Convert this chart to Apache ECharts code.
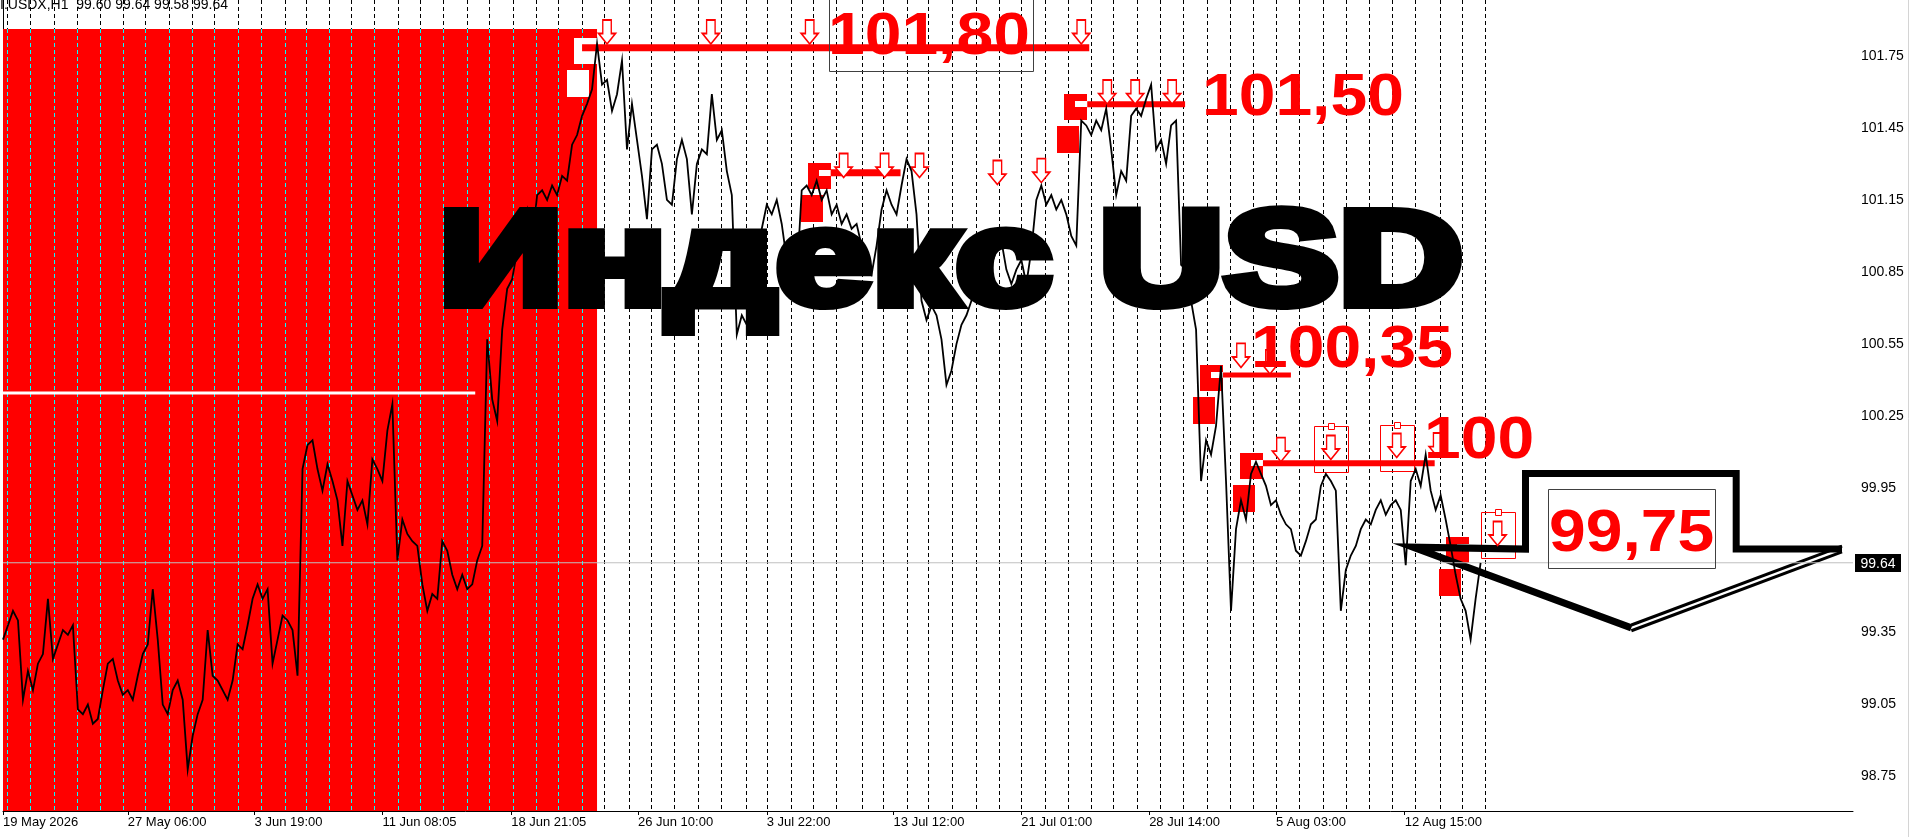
<!DOCTYPE html>
<html>
<head>
<meta charset="utf-8">
<style>
html,body{margin:0;padding:0;background:#ffffff;}
#chart{width:1911px;height:837px;}
</style>
<script src="https://cdn.jsdelivr.net/npm/echarts@6.0.0/dist/echarts.min.js"></script>
</head>
<body>
<div id="chart"></div>
<script>
// ================= DATA =================
// H1 closes sampled every 5 bars (bar index = i * BAR_STEP)
const BAR_STEP = 5;
const closePrices = [
99.32,99.38,99.44,99.40,99.07,99.19,99.11,99.22,99.26,99.49,
99.24,99.30,99.36,99.34,99.38,99.03,99.01,99.05,98.97,98.99,
99.11,99.22,99.24,99.15,99.09,99.11,99.07,99.17,99.26,99.30,
99.53,99.32,99.05,99.01,99.11,99.15,99.07,98.78,98.92,99.01,
99.07,99.36,99.17,99.15,99.11,99.07,99.15,99.30,99.28,99.38,
99.49,99.55,99.49,99.53,99.22,99.32,99.42,99.40,99.36,99.17,
100.03,100.13,100.15,100.03,99.94,100.05,99.98,99.90,99.71,99.98,
99.92,99.86,99.90,99.80,100.07,100.03,99.98,100.19,100.30,99.65,
99.82,99.76,99.73,99.71,99.55,99.44,99.51,99.49,99.73,99.69,
99.59,99.53,99.59,99.53,99.55,99.65,99.71,100.57,100.32,100.23,
100.61,100.78,100.82,100.94,101.03,101.11,100.98,101.17,101.19,101.15,
101.21,101.17,101.25,101.23,101.38,101.42,101.50,101.55,101.61,101.80,
101.63,101.65,101.52,101.59,101.73,101.36,101.55,101.40,101.25,101.07,
101.36,101.38,101.30,101.15,101.13,101.32,101.40,101.32,101.09,101.30,
101.36,101.34,101.59,101.40,101.44,101.27,101.17,100.59,100.67,100.63,
100.78,100.92,101.03,101.13,101.09,101.15,101.05,100.90,100.94,100.82,
101.19,101.21,101.17,101.23,101.15,101.19,101.09,101.13,101.05,101.09,
101.03,101.05,100.96,100.88,100.84,100.96,101.11,101.19,101.13,101.09,
101.21,101.32,101.27,101.09,100.73,100.65,100.71,100.67,100.57,100.38,
100.44,100.55,100.63,100.67,100.73,100.82,100.86,100.82,100.88,100.94,
100.98,100.86,100.80,100.86,100.90,100.80,100.94,101.15,101.21,101.13,
101.17,101.11,101.15,101.09,101.00,100.96,101.48,101.46,101.42,101.48,
101.44,101.53,101.36,101.17,101.27,101.23,101.50,101.53,101.50,101.57,
101.63,101.36,101.40,101.30,101.46,101.48,100.88,100.86,100.73,100.61,
99.98,100.15,100.09,100.21,100.46,99.98,99.44,99.78,99.90,99.82,
100.01,100.06,100.01,99.96,99.88,99.90,99.84,99.80,99.78,99.69,
99.67,99.73,99.80,99.82,99.96,100.01,99.98,99.94,99.44,99.61,
99.67,99.71,99.78,99.82,99.80,99.86,99.90,99.84,99.88,99.90,
99.86,99.63,99.98,100.03,99.96,100.09,99.94,99.86,99.92,99.82,
99.71,99.59,99.49,99.44,99.32,99.49,99.64
];
const lastPrice = 99.64;
const quoteText = 'I.USDX,H1  99.60 99.64 99.58 99.64';

// time axis labels and the bar index where each one sits
const timeLabels = ['19 May 2026','27 May 06:00','3 Jun 19:00','11 Jun 08:05','18 Jun 21:05','26 Jun 10:00','3 Jul 22:00','13 Jul 12:00','21 Jul 01:00','28 Jul 14:00','5 Aug 03:00','12 Aug 15:00'];
const timeLabelBars = [0,125,252,380,509,636,765,892,1020,1148,1275,1404];
const priceTicks = [98.75,99.05,99.35,99.95,100.25,100.55,100.85,101.15,101.45,101.75];

// daily period separators (bar index)
const daySeparators = [4,27,51,74,97,120,142,166,189,211,235,258,282,303,327,349,372,396,418,441,465,487,511,534,556,580,602,627,649,672,696,719,744,765,789,811,834,860,881,905,927,951,975,998,1020,1044,1067,1090,1112,1136,1159,1182,1206,1229,1252,1275,1298,1322,1345,1368,1391,1414,1439,1461,1484];

// shaded zone
const zoneEndBar = 595;
const zoneTopPrice = 101.861;
// old level inside the zone
const zoneLevelPrice = 100.346;
const zoneLevelEndBar = 473;

// resistance levels
const levelPrice    = [101.783, 101.548, 101.263, 100.421, 100.054];
const levelStartBar = [580, 1086, 829, 1222, 1262];
const levelEndBar   = [1088, 1184, 899, 1290, 1434];

// price-label markers (bar, price)
const markBars   = [595, 829, 1086, 1222, 1262, 1468];
const markPrices = [101.783, 101.263, 101.548, 100.421, 100.054, 99.705];

// sell arrows (bar, price)
const arrowBars   = [605,709,808,1080, 1106,1134,1171, 842,883,918, 996,1040, 1240,1269, 1280,1330,1396,1437, 1497];
const arrowPrices = [101.849,101.849,101.849,101.849, 101.599,101.599,101.599, 101.293,101.293,101.293, 101.264,101.272, 100.503,100.476, 100.111,100.120,100.128,100.130, 99.762];
const selectedArrows = [15,16,18];

// big forecast arrow outline (bar, price)
const forecastArrow = [[1842,99.697],[1736,99.697],[1736,100.012],[1525,100.012],[1525,99.697],[1412,99.705],[1631,99.369]];
const forecastTail  = [[1842,99.697],[1631,99.369]];

// ================= LAYOUT / STYLE =================
const Y_MIN = 98.607, Y_MAX = 101.982, X_MAX = 1853;
const LEVEL_WIDTHS = [7, 6, 7, 5, 6];
const RED = '#ff0000';
const FONT = '"Liberation Sans", Arial, sans-serif';

const chart = echarts.init(document.getElementById('chart'), null, {renderer:'canvas'});

const pricePoints = closePrices.map((v, i) => [i * BAR_STEP, v]);

const series = [];

// black dashed separators
series.push({
  type:'custom', z:1, silent:true, clip:false,
  data: daySeparators.map(b => [b, Y_MIN]),
  renderItem:(params, api) => {
    const b = api.value(0);
    const p0 = api.coord([b, Y_MAX]), p1 = api.coord([b, Y_MIN]);
    const x = Math.round(p0[0]) + 0.5;
    return {type:'line', shape:{x1:x, y1:p0[1], x2:x, y2:p1[1]}, style:{stroke:'#000', lineWidth:1, lineDash:[4,3]}};
  }
});
// red zone
series.push({
  type:'custom', z:2, silent:true,
  data:[[0, zoneTopPrice]],
  renderItem:(params, api) => {
    const p0 = api.coord([api.value(0), api.value(1)]);
    const p1 = api.coord([zoneEndBar, Y_MIN]);
    return {type:'rect', shape:{x:p0[0], y:Math.round(p0[1]), width:p1[0]-p0[0], height:p1[1]-Math.round(p0[1])}, style:{fill:RED}};
  }
});
// cyan separators inside the red zone
series.push({
  type:'custom', z:3, silent:true,
  data: daySeparators.filter(b => b < zoneEndBar).map(b => [b, Y_MIN]),
  renderItem:(params, api) => {
    const b = api.value(0);
    const p0 = api.coord([b, zoneTopPrice]), p1 = api.coord([b, Y_MIN]);
    const x = Math.round(p0[0]) + 0.5;
    return {type:'line', shape:{x1:x, y1:Math.round(p0[1]), x2:x, y2:p1[1]}, style:{stroke:'#00ffff', lineWidth:1, lineDash:[4,3]}};
  }
});
// white old level in zone
series.push({
  type:'line', z:3, silent:true, symbol:'none',
  data:[[0, zoneLevelPrice],[zoneLevelEndBar, zoneLevelPrice]],
  lineStyle:{color:'#ffffff', width:3, cap:'butt'}
});
// price-label markers
series.push({
  type:'custom', z:4, silent:true,
  data: markBars.map((b, i) => [b, markPrices[i]]),
  renderItem:(params, api) => {
    const b = api.value(0);
    const p = api.coord([b, api.value(1)]);
    const inZone = b <= zoneEndBar;
    const body = inZone ? '#ffffff' : RED;
    const notch = inZone ? RED : '#ffffff';
    const x = Math.round(p[0]), y = Math.round(p[1]);
    return {type:'group', children:[
      {type:'rect', shape:{x:x-23, y:y-10, width:23, height:26}, style:{fill:body}},
      {type:'rect', shape:{x:x-12, y:y-3, width:12, height:6}, style:{fill:notch}},
      {type:'rect', shape:{x:x-30, y:y+22, width:22, height:27}, style:{fill:body}}
    ]};
  }
});
// level lines
levelPrice.forEach((p, i) => {
  series.push({
    type:'line', z:5, silent:true, symbol:'none',
    data:[[levelStartBar[i], p],[levelEndBar[i], p]],
    lineStyle:{color:RED, width:LEVEL_WIDTHS[i], cap:'butt'}
  });
});
// arrows
series.push({
  type:'scatter', z:6, silent:true,
  data: arrowBars.map((b, i) => [b, arrowPrices[i]]),
  symbol:'path://M4,0 L12,0 L12,13 L16,13 L8,23 L0,13 L4,13 Z',
  symbolSize:[17, 24],
  itemStyle:{color:'#ffffff', borderColor:RED, borderWidth:1.6, opacity:1}
});
// selection boxes around some arrows
series.push({
  type:'custom', z:6, silent:true,
  data: selectedArrows.map(i => [arrowBars[i], arrowPrices[i]]),
  renderItem:(params, api) => {
    const p = api.coord([api.value(0), api.value(1)]);
    const x = Math.round(p[0]) + 0.5, y = Math.round(p[1]) + 0.5;
    return {type:'group', children:[
      {type:'rect', shape:{x:x-17, y:y-21, width:34, height:46}, style:{fill:'none', stroke:RED, lineWidth:1}},
      {type:'rect', shape:{x:x-3, y:y-24, width:6, height:6}, style:{fill:'#fff', stroke:RED, lineWidth:1}}
    ]};
  }
});
// forecast arrow
series.push({
  type:'line', z:6, silent:true, symbol:'none',
  data: forecastArrow,
  lineStyle:{color:'#000', width:7, join:'miter', cap:'butt'}
});
[0.012, -0.012].forEach(off => {
  series.push({
    type:'line', z:6, silent:true, symbol:'none',
    data: forecastTail.map(p => [p[0], p[1] + off]),
    lineStyle:{color:'#000', width:3, cap:'butt'}
  });
});
// current price line
series.push({
  type:'line', z:7, silent:true, symbol:'none',
  data:[[0, lastPrice],[X_MAX, lastPrice]],
  lineStyle:{color:'#c0c0c0', width:1}
});
// current price box on the price scale
series.push({
  type:'custom', z:20, silent:true, clip:false,
  data:[[X_MAX, lastPrice]],
  renderItem:(params, api) => {
    const p = api.coord([api.value(0), api.value(1)]);
    const x = Math.round(p[0]), y = Math.round(p[1]);
    return {type:'group', children:[
      {type:'rect', shape:{x:x+2, y:y-9, width:46, height:18}, style:{fill:'#000'}},
      {type:'text', x:x+25, y:y+1, style:{text:api.value(1).toFixed(2), fill:'#fff',
        font:'14px ' + FONT, align:'center', verticalAlign:'middle', textAlign:'center', textVerticalAlign:'middle'}}
    ]};
  }
});
// price
series.push({
  type:'line', z:8, silent:true, symbol:'none', sampling:'none',
  data: pricePoints,
  lineStyle:{color:'#000', width:1.8, join:'miter'}
});

function txt(text, x, y, font, fill, sx, extra){
  return {type:'text', x:x, y:y, scaleX:sx||1, z:100, silent:true,
    style:Object.assign({text:text, font:font, fill:fill,
      align:'left', verticalAlign:'middle', textAlign:'left', textVerticalAlign:'middle'}, extra||{})};
}
const BIG = 'bold 60px ' + FONT;

const option = {
  animation:false,
  backgroundColor:'#ffffff',
  grid:{left:0, right:58, top:0, bottom:26, containLabel:false},
  xAxis:{
    type:'value', min:0, max:X_MAX,
    splitLine:{show:false},
    axisLine:{show:true, onZero:false, lineStyle:{color:'#000', width:1}},
    axisTick:{show:true, customValues:timeLabelBars, length:4, lineStyle:{color:'#000'}},
    axisLabel:{show:true, customValues:timeLabelBars, align:'left', margin:5,
      color:'#000', fontSize:13, fontFamily:FONT,
      formatter:(v) => { const i = timeLabelBars.indexOf(v); return i >= 0 ? timeLabels[i] : ''; }}
  },
  yAxis:{
    type:'value', position:'right', min:Y_MIN, max:Y_MAX,
    splitLine:{show:false},
    axisLine:{show:true, lineStyle:{color:'#000', width:1}},
    axisTick:{show:true, customValues:priceTicks, length:3, lineStyle:{color:'#000'}},
    axisLabel:{show:true, customValues:priceTicks, margin:8, color:'#000', fontSize:14,
      fontFamily:FONT, formatter:(v) => v.toFixed(2)}
  },
  series: series,
  graphic:{elements:[
    txt(quoteText, 0, 5, '14px ' + FONT, '#000', 1),
    {type:'rect', z:99, silent:true, shape:{x:829.5, y:-1, width:204, height:72.5}, style:{fill:'none', stroke:'#404040', lineWidth:1}},
    {type:'rect', z:99, silent:true, shape:{x:1548.5, y:489.5, width:167, height:79}, style:{fill:'none', stroke:'#404040', lineWidth:1}},
    txt('101,80', 828, 37, BIG, RED, 1.1),
    txt('101,50', 1202, 98, BIG, RED, 1.1),
    txt('100,35', 1251, 350, BIG, RED, 1.1),
    txt('100', 1424, 441, BIG, RED, 1.1),
    txt('99,75', 1549, 534, BIG, RED, 1.1),
    txt('Индекс USD', 439, 267, 'bold 134px ' + FONT, '#000', 1.285,
      {stroke:'#000', lineWidth:10}),
    {type:'line', z:99, silent:true, shape:{x1:1908.5, y1:0, x2:1908.5, y2:837}, style:{stroke:'#d4d4d4', lineWidth:1}}
  ]}
};
chart.setOption(option);
</script>
</body>
</html>
